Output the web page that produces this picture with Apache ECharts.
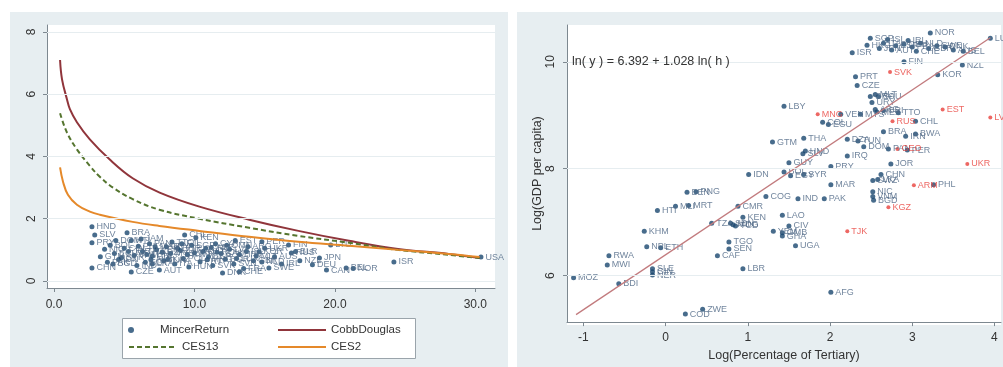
<!DOCTYPE html>
<html><head><meta charset="utf-8">
<script src="https://cdn.jsdelivr.net/npm/echarts@6/dist/echarts.min.js"></script>
<style>html,body{margin:0;padding:0;background:#fff}#c{width:1003px;height:367px}</style>
</head><body><div id="c"></div><script>
// ---------- Left panel data ----------
const mincerX = [2.7,2.9,2.7,2.7,3.3,3.6,4.0,4.3,4.6,5.2,5.0,5.5,5.7,6.0,6.3,6.5,6.8,7.0,7.5,7.3,7.8,8.0,8.3,8.6,9.0,9.3,9.2,9.6,10.1,10.0,10.4,10.8,11.0,11.3,11.6,12.0,12.2,12.5,12.8,13.2,13.5,13.8,14.2,14.6,14.8,14.8,15.3,15.7,16.2,16.7,16.9,17.5,18.4,18.9,19.4,19.7,20.8,21.3,24.2,30.4,3.8,4.4,5.9,6.2,7.0,8.4,9.8,11.5,12.9,13.2,15.0,17.2,4.8,5.3,6.6,7.2,7.7,8.1,8.8,9.5,10.6,11.2,11.9,12.3,13.0,13.7,14.4,5.5,9.1,10.9,6.9,4.2];
const mincerY = [1.74,1.48,1.23,0.42,0.78,1.02,1.15,0.88,0.69,1.55,1.05,0.29,0.82,1.12,0.95,0.60,1.20,0.80,0.35,1.00,0.65,1.10,0.88,0.55,0.98,1.48,0.72,0.45,1.39,0.90,0.62,1.05,0.78,0.50,0.92,0.26,0.70,1.02,0.55,0.85,0.40,1.10,0.65,0.94,1.26,0.61,0.42,0.78,0.55,1.16,0.90,0.65,0.52,0.74,0.35,1.16,0.42,0.40,0.61,0.77,0.60,1.30,0.50,1.35,0.55,1.25,1.15,1.20,1.30,0.30,1.05,0.95,0.75,0.95,0.85,1.10,0.92,0.70,1.05,0.85,0.95,1.08,0.88,1.15,0.72,0.95,0.80,1.30,1.20,0.68,0.68,0.55];
const mincerLab = ['HND','SLV','PRY','CHN','GTM','NIC','BOL','ECU','IDN','BRA','COL','CZE','VNM','PHL','THA','EGY','PAN','CRI','AUT','VEN','TUR','URY','MYS','ITA','ZAF','CHL','POL','HUN','KEN','IRN','PRT','GRC','ESP','SVK','ROU','DNK','BGR','LVA','SVN','HRV','FRA','ARG','GBR','KOR','PER','NLD','SWE','AUS','IRL','FIN','RUS','NZL','DEU','JPN','CAN','LTU','BEL','NOR','ISR','USA','PAK','DOM','IND','JAM','LKA','TTO','SGP','CYP','EST','CHE','UKR','BLR','SYR','JOR','TUN','MAR','DZA','KAZ','BHR','KWT','QAT','ARE','SAU','OMN','LUX','ISL','MLT','HTI','FJI','MNG','ALB','BGD'];

const cobbX = [0.43,0.57,0.92,1.13,1.63,2.55,3.97,5.6,7.52,10.35,13.9,17.4,21.0,24.5,28.1,30.3];
const cobbY = [7.10,6.48,5.84,5.52,5.10,4.55,3.90,3.30,2.84,2.39,1.97,1.61,1.29,1.03,0.87,0.74];
const ces13X = [0.43,0.92,1.63,2.55,3.26,4.2,5.6,7.5,10.35,13.9,17.4,21.0,24.5,28.1,30.3];
const ces13Y = [5.39,4.77,4.23,3.70,3.35,3.00,2.63,2.29,2.00,1.71,1.45,1.23,1.00,0.84,0.74];
const ces2X = [0.43,0.64,0.99,1.63,2.55,3.26,5.6,7.5,10.35,13.9,17.4,21.0,24.5,28.1,30.3];
const ces2Y = [3.65,3.19,2.77,2.45,2.23,2.13,1.90,1.77,1.61,1.42,1.26,1.13,1.00,0.87,0.77];

const leftXTicks = [0,10,20,30];
const leftYTicks = [0,2,4,6,8];

// ---------- Right panel data ----------
const tertX = [-1.12,-0.57,-0.69,-0.71,-0.16,-0.16,-0.16,-0.23,-0.06,-0.26,-0.10,0.12,0.28,0.26,0.37,0.56,0.88,0.94,0.79,0.85,0.82,0.77,0.77,0.63,0.94,1.01,0.45,0.24,1.44,1.30,1.68,1.67,1.70,2.21,2.34,2.21,1.50,1.44,1.68,1.52,2.01,2.01,2.74,1.22,1.61,1.93,2.52,2.52,2.53,1.42,1.31,1.50,1.42,1.42,1.58,2.01,3.26,2.27,2.49,2.45,3.22,3.95,2.65,2.80,2.90,3.00,3.10,3.20,3.30,3.40,3.50,3.62,2.75,2.60,3.05,2.95,2.70,2.90,3.61,3.31,2.31,2.33,2.49,2.55,2.59,2.51,2.55,2.57,2.13,2.37,2.65,2.83,3.04,1.91,1.98,2.92,3.04,2.94,2.41,2.65,2.71,2.62,2.58,2.52];
const gdpY = [5.96,5.85,6.37,6.20,6.13,6.07,6.01,6.54,6.52,6.83,7.22,7.30,7.31,7.56,7.57,6.98,7.30,7.09,6.98,6.93,6.95,6.63,6.50,6.37,6.13,7.89,5.37,5.28,9.17,8.50,8.57,8.28,8.33,8.55,8.52,8.24,8.11,7.94,7.89,7.87,8.04,7.70,8.09,7.48,7.44,7.44,7.57,7.48,7.41,7.13,6.83,6.93,6.80,6.74,6.56,5.69,7.70,10.17,10.44,10.31,10.54,10.44,10.35,10.30,10.33,10.28,10.35,10.25,10.30,10.28,10.22,10.20,10.22,10.25,10.20,10.40,10.42,10.00,9.94,9.76,9.72,9.56,9.35,9.39,9.35,9.24,9.11,9.06,9.02,9.02,9.09,9.05,8.89,8.87,8.83,8.61,8.65,8.35,8.41,8.69,8.37,7.89,7.80,7.78];
const ctry = ['MOZ','BDI','RWA','MWI','SLE','GIN','NER','NPL','ETH','KHM','HTI','MLI','MRT','BEN','PNG','TZA','CMR','KEN','SDN','TCD','MDG','TGO','SEN','CAF','LBR','IDN','ZWE','COD','LBY','GTM','THA','SLV','HND','DZA','TUN','IRQ','GUY','BOL','SYR','EGY','PRY','MAR','JOR','COG','IND','PAK','NIC','VNM','BGD','LAO','YEM','CIV','GMB','GHA','UGA','AFG','PHL','ISR','SGP','HKG','NOR','LUX','ITA','ESP','DEU','FRA','NLD','GBR','SWE','DNK','AUS','BEL','AUT','JPN','CHE','IRL','ISL','FIN','NZL','KOR','PRT','CZE','GRC','MLT','SAU','URY','ARG','MEX','VEN','MYS','CRI','TTO','CHL','COL','ECU','IRN','BWA','PER','DOM','BRA','PAN','CHN','LKA','SWZ'];
const redX = [1.85,2.73,2.76,3.37,3.95,2.82,3.67,2.71,3.02,2.21];
const redY = [9.02,9.81,8.89,9.11,8.96,8.37,8.09,7.28,7.69,6.83];
const redLab = ['MNG','SVK','RUS','EST','LVA','GEO','UKR','KGZ','ARM','TJK'];
const fitX = [-1.09, 3.95];
const fitY = [5.27, 10.45];
const rightXTicks = [-1,0,1,2,3,4];
const rightYTicks = [6,8,10];
const eqText = 'ln( y ) = 6.392 + 1.028 ln( h )';

// ---------- build ----------
const zip = (xs, ys) => xs.map((x, i) => [x, ys[i]]);
const named = (xs, ys, ns) => xs.map((x, i) => ({ value: [x, ys[i]], name: ns[i] }));
const FONT = 'Liberation Sans, Arial, sans-serif';
const NAVY = '#1a476f';
const BG = '#e7eef1';
const axisCol = '#7d8890';
const gridLineStyle = { color: '#e6edf0', width: 1, type: 'solid' };
const TICKFS = 12;

function mkAxis(gridIndex, min, max, ticks, fmt, rotate, margin, extra) {
  return Object.assign({
    type: 'value', gridIndex, min, max,
    axisLine: { show: true, onZero: false, lineStyle: { color: axisCol, width: 1 } },
    axisTick: { show: true, length: 4, inside: false, customValues: ticks, lineStyle: { color: axisCol } },
    axisLabel: { customValues: ticks, formatter: fmt, rotate, margin, fontSize: TICKFS, color: '#333', fontFamily: FONT },
    splitLine: { show: false }
  }, extra || {});
}
const lineLegend = (left, top, name) => ({
  left, top, padding: 0, itemWidth: 48, itemHeight: 14, data: [name],
  itemStyle: { opacity: 0, color: 'transparent', borderWidth: 0 },
  textStyle: { fontSize: 11.5, color: '#333', fontFamily: FONT }
});

const option = {
  animation: false,
  textStyle: { fontFamily: FONT },
  graphic: [
    { type: 'rect', z: -100, shape: { x: 10, y: 12, width: 498, height: 355 }, style: { fill: BG } },
    { type: 'rect', z: -100, shape: { x: 517, y: 12, width: 486, height: 355 }, style: { fill: BG } },
    { type: 'rect', z: -99, shape: { x: 47, y: 25, width: 448, height: 263 }, style: { fill: '#fff' } },
    { type: 'rect', z: -99, shape: { x: 567, y: 25, width: 434, height: 300 }, style: { fill: '#fff' } },
    { type: 'rect', z: -98, shape: { x: 122.5, y: 318.5, width: 293, height: 40 }, style: { fill: '#fff', stroke: '#9aa4ab', lineWidth: 1 } },
    { type: 'text', z: 10, x: 572, y: 62, style: { text: eqText, fontSize: 12.5, fontFamily: FONT, fill: '#333', verticalAlign: 'middle' } }
  ],
  grid: [
    { left: 47, top: 25, width: 448, height: 263 },
    { left: 567, top: 25, width: 434, height: 300 }
  ],
  xAxis: [
    mkAxis(0, -0.5, 31.4, leftXTicks, v => Number(v).toFixed(1), 0, 11),
    mkAxis(1, -1.2, 4.08, rightXTicks, v => String(v), 0, 10, {
      name: 'Log(Percentage of Tertiary)', nameLocation: 'middle', nameGap: 21,
      nameTextStyle: { fontSize: 12.5, color: '#333', fontFamily: FONT }
    })
  ],
  yAxis: [
    mkAxis(0, -0.225, 8.225, leftYTicks, v => String(v), 90, 9),
    mkAxis(1, 5.13, 10.69, rightYTicks, v => String(v), 90, 10, {
      name: 'Log(GDP per capita)', nameLocation: 'middle', nameGap: 23,
      nameTextStyle: { fontSize: 12.5, color: '#333', fontFamily: FONT }
    })
  ],
  legend: [
    { left: 128, top: 324, padding: 0, itemWidth: 48, itemHeight: 6, data: [{ name: 'MincerReturn', icon: 'circle' }], textStyle: { fontSize: 11.5, color: '#333', fontFamily: FONT } },
    lineLegend(277, 324, 'CobbDouglas'),
    lineLegend(128, 341, 'CES13'),
    lineLegend(277, 341, 'CES2')
  ],
  series: [
    {
      name: 'MincerReturn', type: 'scatter', xAxisIndex: 0, yAxisIndex: 0, z: 2,
      symbolSize: 5, itemStyle: { color: NAVY },
      label: { show: true, position: 'right', distance: 2, fontSize: 9, color: '#4d6684', formatter: p => p.name },
      data: named(mincerX, mincerY, mincerLab),
      markLine: { silent: true, symbol: 'none', label: { show: false }, lineStyle: gridLineStyle, data: leftYTicks.map(v => ({ yAxis: v })) }
    },
    { name: 'CobbDouglas', type: 'line', xAxisIndex: 0, yAxisIndex: 0, z: 3, smooth: 0.4, symbol: 'none', showSymbol: false,
      lineStyle: { color: '#90353b', width: 2 }, itemStyle: { color: '#90353b' }, data: zip(cobbX, cobbY) },
    { name: 'CES13', type: 'line', xAxisIndex: 0, yAxisIndex: 0, z: 3, smooth: 0.4, symbol: 'none', showSymbol: false,
      lineStyle: { color: '#55752f', width: 2, type: [5, 3] }, itemStyle: { color: '#55752f' }, data: zip(ces13X, ces13Y) },
    { name: 'CES2', type: 'line', xAxisIndex: 0, yAxisIndex: 0, z: 3, smooth: 0.4, symbol: 'none', showSymbol: false,
      lineStyle: { color: '#e5892a', width: 2 }, itemStyle: { color: '#e5892a' }, data: zip(ces2X, ces2Y) },
    {
      name: 'Countries', type: 'scatter', xAxisIndex: 1, yAxisIndex: 1, z: 2,
      symbolSize: 5, itemStyle: { color: NAVY },
      label: { show: true, position: 'right', distance: 2, fontSize: 9, color: '#4d6684', formatter: p => p.name },
      data: named(tertX, gdpY, ctry),
      markLine: { silent: true, symbol: 'none', label: { show: false }, lineStyle: gridLineStyle, data: rightYTicks.map(v => ({ yAxis: v })) }
    },
    {
      name: 'Transition', type: 'scatter', xAxisIndex: 1, yAxisIndex: 1, z: 2,
      symbolSize: 4, itemStyle: { color: '#e8413c' },
      label: { show: true, position: 'right', distance: 2, fontSize: 9, color: '#e8413c', formatter: p => p.name },
      data: named(redX, redY, redLab)
    },
    { name: 'Fit', type: 'line', xAxisIndex: 1, yAxisIndex: 1, z: 3, symbol: 'none', showSymbol: false,
      lineStyle: { color: '#c27b7e', width: 1.3 }, data: zip(fitX, fitY) }
  ]
};
const chart = echarts.init(document.getElementById('c'), null, { renderer: 'canvas' });
chart.setOption(option);
</script></body></html>
